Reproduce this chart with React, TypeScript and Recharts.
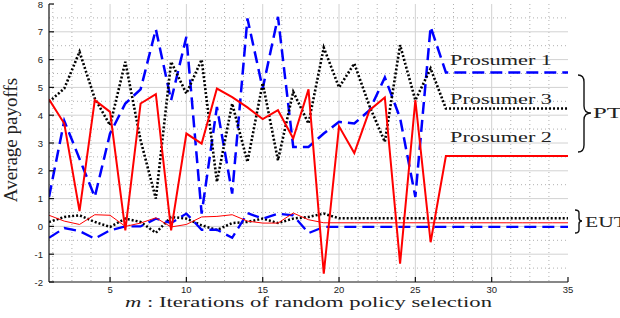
import React from 'react';
import { LineChart, Line, XAxis, YAxis, CartesianGrid } from 'recharts';

// iteration index m
const iterations = [
  1, 2, 3, 4, 5, 6, 7, 8, 9, 10, 11, 12, 13, 14, 15, 16, 17, 18,
  19, 20, 21, 22, 23, 24, 25, 26, 27, 28, 29, 30, 31, 32, 33, 34, 35,
];

// prospect theory (PT) payoffs
const prosumer1PT = [
  1.06, 3.8, 2.43, 1.06, 3.34, 4.42, 4.93, 7.09, 4.54, 6.82, 0.46, 4.3, 1.18, 7.48, 4.96, 7.54, 2.86, 2.86,
  3.34, 3.76, 3.7, 4.18, 5.36, 3.9, 1.06, 7.18, 5.54, 5.54, 5.54, 5.54, 5.54, 5.54, 5.54, 5.54, 5.54,
];
const prosumer2PT = [
  4.57, 3.7, 0.55, 4.54, 4.12, -0.14, 4.42, 4.76, -0.14, 3.34, 2.98, 4.96, 4.65, 4.28, 3.86, 4.18, 3.16, 4.93,
  -1.7, 3.6, 2.64, 4.18, 4.64, -1.34, 4.54, -0.57, 2.53, 2.53, 2.53, 2.53, 2.53, 2.53, 2.53, 2.53, 2.53,
];
const prosumer3PT = [
  4.48, 4.96, 6.28, 4.6, 3.64, 5.92, 3.1, 1.0, 5.92, 4.78, 6.0, 1.6, 4.42, 2.32, 5.16, 2.38, 4.84, 3.7,
  6.43, 5.0, 5.86, 4.32, 3.04, 6.52, 4.54, 5.68, 4.24, 4.24, 4.24, 4.24, 4.24, 4.24, 4.24, 4.24, 4.24,
];

// expected utility theory (EUT) payoffs
const prosumer1EUT = [
  -0.41, -0.06, -0.17, -0.44, -0.14, 0.0, 0.0, 0.28, 0.12, 0.46, -0.12, -0.12, -0.41, 0.48, 0.28, 0.46, 0.4, -0.24,
  -0.02, -0.02, -0.02, -0.02, -0.02, -0.02, -0.02, -0.02, -0.02, -0.02, -0.02, -0.02, -0.02, -0.02, -0.02, -0.02, -0.02,
];
const prosumer2EUT = [
  0.4, 0.19, 0.07, 0.42, 0.4, 0.0, 0.12, 0.31, -0.02, 0.07, 0.34, 0.36, 0.42, 0.19, 0.12, 0.12, 0.48, 0.24,
  0.13, 0.13, 0.13, 0.13, 0.13, 0.13, 0.13, 0.13, 0.13, 0.13, 0.13, 0.13, 0.13, 0.13, 0.13, 0.13, 0.13,
];
const prosumer3EUT = [
  0.16, 0.34, 0.4, 0.16, -0.02, 0.28, 0.16, -0.23, 0.34, 0.28, 0.04, -0.13, 0.12, 0.16, 0.28, 0.12, 0.28, 0.34,
  0.46, 0.29, 0.29, 0.29, 0.29, 0.29, 0.29, 0.29, 0.29, 0.29, 0.29, 0.29, 0.29, 0.29, 0.29, 0.29, 0.29,
];

const xTicks = [5, 10, 15, 20, 25, 30, 35];
const yTicks = [-2, -1, 0, 1, 2, 3, 4, 5, 6, 7, 8];

const data = iterations.map((m, i) => ({
  m,
  p1: prosumer1PT[i],
  p2: prosumer2PT[i],
  p3: prosumer3PT[i],
  e1: prosumer1EUT[i],
  e2: prosumer2EUT[i],
  e3: prosumer3EUT[i],
}));

// matlab-style grid: majors solid, minors dotted
const majorX = [5, 10, 15, 20, 25, 30];
const majorY = [-1, 0, 1, 2, 3, 4, 5, 6, 7];
const minorX: number[] = [];
for (let v = 1.25; v < 35; v += 1.25) if (v % 5 !== 0) minorX.push(v);
const minorY: number[] = [];
for (let v = -1.5; v < 8; v += 1) minorY.push(v);

const W = 620;
const H = 318;
const M = { top: 4, right: 52, left: 0, bottom: 0 };
const Y_AXIS_W = 49;
const X_AXIS_H = 36;
const plotLeft = M.left + Y_AXIS_W;
const plotRight = W - M.right;
const plotTop = M.top;
const plotBottom = H - X_AXIS_H;
const TICK = 5;
const axisColor = '#111';
const axisLine = { stroke: axisColor, strokeWidth: 1.2 };

const serif = '"Liberation Serif", "DejaVu Serif", serif';
const sans = '"Liberation Sans", Arial, sans-serif';

// inward tick marks like matlab, labels outside
const BottomTick = (props: any) => {
  const { x, payload } = props;
  return (
    <g>
      <line x1={x} x2={x} y1={plotBottom} y2={plotBottom - TICK} stroke={axisColor} strokeWidth={1.2} />
      <text x={x} y={plotBottom + 11} textAnchor="middle" fontSize={9.5} fontFamily={sans} fill="#222">
        {payload.value}
      </text>
    </g>
  );
};
const TopTick = (props: any) => {
  const { x } = props;
  return <line x1={x} x2={x} y1={plotTop} y2={plotTop + TICK} stroke={axisColor} strokeWidth={1.2} />;
};
const LeftTick = (props: any) => {
  const { y, payload } = props;
  return (
    <g>
      <line x1={plotLeft} x2={plotLeft + TICK} y1={y} y2={y} stroke={axisColor} strokeWidth={1.2} />
      <text x={plotLeft - 6} y={y + 3.5} textAnchor="end" fontSize={9.5} fontFamily={sans} fill="#222">
        {payload.value}
      </text>
    </g>
  );
};
const RightTick = (props: any) => {
  const { y } = props;
  return <line x1={plotRight} x2={plotRight - TICK} y1={y} y2={y} stroke={axisColor} strokeWidth={1.2} />;
};

const App: React.FC = () => {
  return (
    <div style={{ position: 'absolute', left: 0, top: 0, width: W, height: H, background: '#fff' }}>
      <LineChart width={W} height={H} data={data} margin={M}>
        <CartesianGrid
          horizontalValues={minorY}
          verticalValues={minorX}
          stroke="#b0b0b0"
          strokeDasharray="1 3"
        />
        <CartesianGrid horizontalValues={majorY} verticalValues={majorX} stroke="#d2d2d2" />
        <XAxis
          dataKey="m"
          type="number"
          domain={[1, 35]}
          ticks={xTicks}
          interval={0}
          height={X_AXIS_H}
          axisLine={axisLine}
          tickLine={false}
          tick={<BottomTick />}
          allowDataOverflow
        />
        <XAxis
          xAxisId="top"
          orientation="top"
          type="number"
          domain={[1, 35]}
          ticks={xTicks}
          interval={0}
          height={0}
          axisLine={axisLine}
          tickLine={false}
          tick={<TopTick />}
          allowDataOverflow
        />
        <YAxis
          type="number"
          domain={[-2, 8]}
          ticks={yTicks}
          interval={0}
          width={Y_AXIS_W}
          axisLine={axisLine}
          tickLine={false}
          tick={<LeftTick />}
          allowDataOverflow
        />
        <YAxis
          yAxisId="right"
          orientation="right"
          type="number"
          domain={[-2, 8]}
          ticks={yTicks}
          interval={0}
          width={0}
          axisLine={axisLine}
          tickLine={false}
          tick={<RightTick />}
          allowDataOverflow
        />
        <Line type="linear" dataKey="e3" stroke="#000" strokeWidth={2.5} strokeDasharray="2 2" dot={false} isAnimationActive={false} />
        <Line type="linear" dataKey="e1" stroke="#0000ff" strokeWidth={2.3} strokeDasharray="12 6" dot={false} isAnimationActive={false} />
        <Line type="linear" dataKey="e2" stroke="#ff0000" strokeWidth={1} dot={false} isAnimationActive={false} />
        <Line type="linear" dataKey="p1" stroke="#0000ff" strokeWidth={2.5} strokeDasharray="12 6" dot={false} isAnimationActive={false} />
        <Line type="linear" dataKey="p3" stroke="#000" strokeWidth={2.6} strokeDasharray="2 2" dot={false} isAnimationActive={false} />
        <Line type="linear" dataKey="p2" stroke="#ff0000" strokeWidth={2} dot={false} isAnimationActive={false} />
      </LineChart>
      <svg
        width={W}
        height={H}
        style={{ position: 'absolute', left: 0, top: 0, pointerEvents: 'none' }}
      >
        <g fontFamily={serif} fill="#222">
          <text x={450} y={65} fontSize={15} textLength={102} lengthAdjust="spacingAndGlyphs">Prosumer 1</text>
          <text x={450} y={104} fontSize={15} textLength={102} lengthAdjust="spacingAndGlyphs">Prosumer 3</text>
          <text x={450} y={142} fontSize={15} textLength={102} lengthAdjust="spacingAndGlyphs">Prosumer 2</text>
          <text x={593} y={118} fontSize={15} textLength={29} lengthAdjust="spacingAndGlyphs">PT</text>
          <text x={585} y={227} fontSize={15} textLength={42} lengthAdjust="spacingAndGlyphs">EUT</text>
          <text x={125} y={307} fontSize={15} textLength={367} lengthAdjust="spacingAndGlyphs">
            <tspan fontStyle="italic">m</tspan> : Iterations of random policy selection
          </text>
          <text x={0} y={0} fontSize={19} textAnchor="middle" transform="translate(17,140) rotate(-90)">
            Average payoffs
          </text>
        </g>
        <g fill="none" stroke="#111" strokeWidth={1.4}>
          <path d="M578,75 Q584,75 584,82 L584,106 Q584,113 591,113 Q584,113 584,120 L584,145 Q584,152 578,152" />
          <path d="M575,210 Q579,210 579,213 L579,218 Q579,221 582,221 Q579,221 579,224 L579,230 Q579,233 575,233" />
        </g>
      </svg>
    </div>
  );
};

export default App;
